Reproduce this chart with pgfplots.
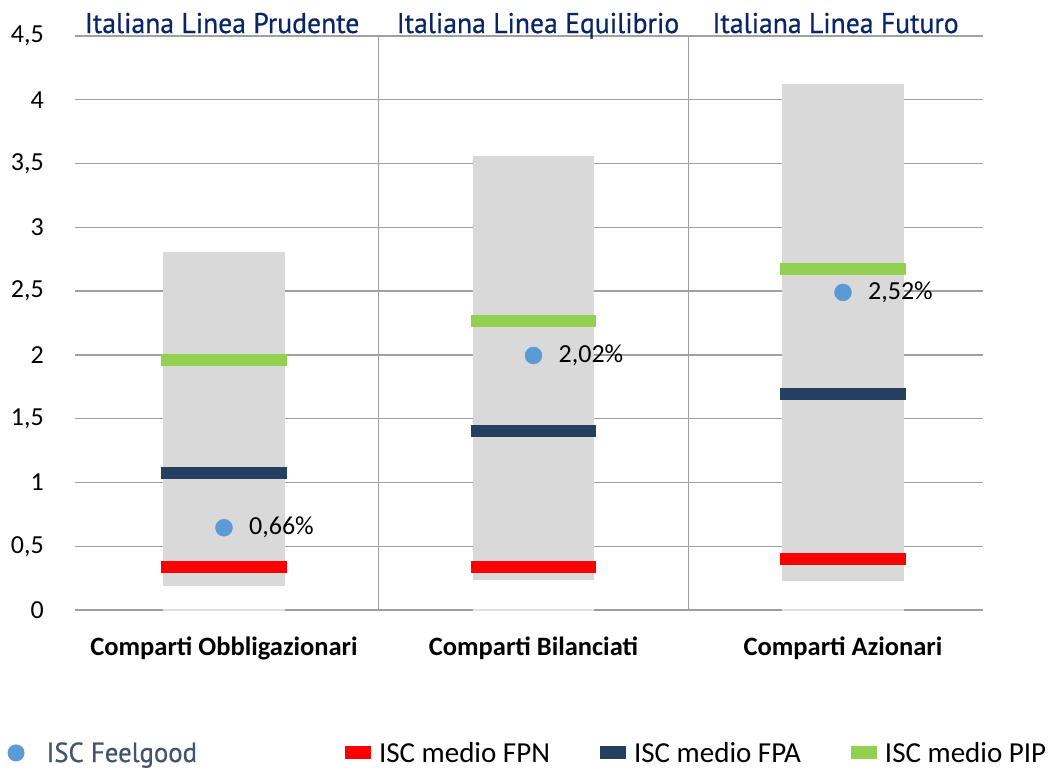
\documentclass[border=0pt]{standalone}
\usepackage{fontspec}
\setmainfont{Carlito}
\newfontfamily\titlefont[FakeStretch=0.97, FakeBold=0.6]{PT Sans}
\usepackage{pgfplots}
\pgfplotsset{compat=1.18}
\definecolor{boxgray}{HTML}{D9D9D9}
\definecolor{fpn}{HTML}{FF0000}
\definecolor{fpa}{HTML}{243F60}
\definecolor{pip}{HTML}{92D050}
\definecolor{dotblue}{HTML}{5B9BD5}
\definecolor{titlenavy}{HTML}{0A2566}
\definecolor{slate}{HTML}{44546A}
\definecolor{gridgray}{HTML}{A0A0A0}
\begin{document}
\begin{tikzpicture}[x=1pt,y=1pt]
\useasboundingbox (0,0) rectangle (1056,772);
\begin{axis}[
  at={(75pt,162pt)}, anchor=south west,
  scale only axis, width=908pt, height=574pt,
  xmin=-0.4814, xmax=2.4524, ymin=0, ymax=4.5,
  clip=false,
  axis line style={draw=none},
  major tick length=0pt, minor tick length=0pt,
  unbounded coords=jump,
  ytick={0,0.5,1,1.5,2,2.5,3,3.5,4,4.5},
  /pgf/number format/.cd, use comma, assume math mode=true, /pgfplots/.cd,
  ymajorgrids, xmajorgrids,
  grid style={gridgray, line width=1.4pt},
  xtick={0.5,1.5}, xticklabels={},
  extra x ticks={0,1,2},
  extra x tick labels={Comparti Obbligazionari, Comparti Bilanciati, Comparti Azionari},
  extra x tick style={grid=none, major tick length=0pt,
     xticklabel style={anchor=base, inner sep=0pt, yshift=-45pt, font=\bfseries\fontsize{26.5}{30}\selectfont}},
  yticklabel style={anchor=east, inner sep=0pt, xshift=-31pt, font=\fontsize{26}{30}\selectfont},
  legend columns=4,
  legend cell align=left,
  legend style={at={(axis description cs:-0.0743,-0.249)}, anchor=west,
     draw=none, fill=none, inner sep=0pt, outer sep=0pt,
     nodes={inner sep=0pt},
     font=\fontsize{29}{32}\selectfont,
     /tikz/column 1/.style={column sep=22pt},
     /tikz/column 2/.style={column sep=148pt},
     /tikz/column 3/.style={column sep=8pt},
     /tikz/column 4/.style={column sep=50pt},
     /tikz/column 5/.style={column sep=8pt},
     /tikz/column 6/.style={column sep=50pt},
     /tikz/column 7/.style={column sep=8pt}},
]
% range boxes (min to max)
\addplot[fill=boxgray, draw=none, forget plot] coordinates {(-0.197,0.188) (0.197,0.188) (0.197,2.803) (-0.197,2.803)} -- cycle;
\addplot[fill=boxgray, draw=none, forget plot] coordinates {(0.803,0.235) (1.197,0.235) (1.197,3.558) (0.803,3.558)} -- cycle;
\addplot[fill=boxgray, draw=none, forget plot] coordinates {(1.803,0.227) (2.197,0.227) (2.197,4.12) (1.803,4.12)} -- cycle;
\addplot[boxgray!80, line width=2pt, forget plot] coordinates {(-0.197,0) (0.197,0) (0.5,nan) (0.803,0) (1.197,0) (1.5,nan) (1.803,0) (2.197,0)};
% ISC Feelgood
\addplot[only marks, mark=*, mark size=8.5pt, color=dotblue,
  legend image code/.code={\path[fill=dotblue, draw=none] (8.5pt,0pt) circle (8.5pt);},
  point meta=explicit symbolic,
  nodes near coords,
  nodes near coords style={anchor=west, inner sep=0pt, xshift=25pt, text=black, font=\fontsize{26}{30}\selectfont}]
  coordinates {(0,0.645) [0,66\%] (1,1.995) [2,02\%] (2,2.49) [2,52\%]};
\addlegendentry{\titlefont\color{slate}\fontsize{27.6}{32}\selectfont ISC Feelgood}
% ISC medio FPN
\addplot[fpn, line width=12pt, legend image code/.code={\path[fill=fpn, draw=none, line width=0pt] (0pt,-6.5pt) rectangle (26pt,6.5pt);}]
  coordinates {(-0.2035,0.337) (0.2035,0.337) (0.5,nan) (0.7965,0.335) (1.2035,0.335) (1.5,nan) (1.7965,0.396) (2.2035,0.396)};
\addlegendentry{ISC medio FPN}
% ISC medio FPA
\addplot[fpa, line width=12pt, legend image code/.code={\path[fill=fpa, draw=none, line width=0pt] (0pt,-6.5pt) rectangle (26pt,6.5pt);}]
  coordinates {(-0.2035,1.076) (0.2035,1.076) (0.5,nan) (0.7965,1.40) (1.2035,1.40) (1.5,nan) (1.7965,1.69) (2.2035,1.69)};
\addlegendentry{ISC medio FPA}
% ISC medio PIP
\addplot[pip, line width=12pt, legend image code/.code={\path[fill=pip, draw=none, line width=0pt] (0pt,-6.5pt) rectangle (26pt,6.5pt);}]
  coordinates {(-0.2035,1.96) (0.2035,1.96) (0.5,nan) (0.7965,2.265) (1.2035,2.265) (1.5,nan) (1.7965,2.674) (2.2035,2.674)};
\addlegendentry{ISC medio PIP}
% titles
\node[anchor=base, yshift=3pt, text=titlenavy, font=\titlefont\fontsize{28.5}{32}\selectfont] at (axis cs:-0.006,4.5) {Italiana Linea Prudente};
\node[anchor=base, yshift=3pt, text=titlenavy, font=\titlefont\fontsize{28.5}{32}\selectfont] at (axis cs:1.0145,4.5) {Italiana Linea Equilibrio};
\node[anchor=base, yshift=3pt, text=titlenavy, font=\titlefont\fontsize{28.5}{32}\selectfont] at (axis cs:1.976,4.5) {Italiana Linea Futuro};
\end{axis}
\end{tikzpicture}
\end{document}
